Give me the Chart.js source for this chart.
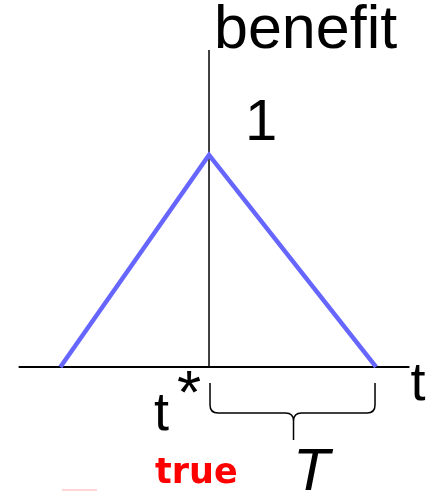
<!DOCTYPE html>
<html>
<head>
  <meta charset="UTF-8" />
  <title>benefit</title>
  <script src="https://cdn.jsdelivr.net/npm/chart.js"></script>
  <style>
    body { margin: 0; background: #fff; }
    #wrap { width: 446px; height: 491px; }
  </style>
</head>
<body>
  <div id="wrap"><canvas id="chart"></canvas></div>
  <script>
    // triangle: rises to 1 at t*, falls back to 0 after T
    const tValues = [-0.89, 0, 1];
    const benefitValues = [0, 1, 0];
    const xAxisEnds = [-1.14, 1.2];
    const yAxisTop = 1.495;

    const fontMain = '"Liberation Sans", Arial, sans-serif';

    const annotate = {
      id: 'annotate',
      afterDraw(chart) {
        const { ctx, scales: { x, y } } = chart;
        const x0 = x.getPixelForValue(0), x1 = x.getPixelForValue(1);
        const y0 = y.getPixelForValue(0), y1 = y.getPixelForValue(1);
        const yTop = y.getPixelForValue(yAxisTop);
        const xRight = x.getPixelForValue(xAxisEnds[1]);
        ctx.save();
        ctx.fillStyle = '#000';
        ctx.textBaseline = 'alphabetic';
        ctx.font = '61px ' + fontMain;
        ctx.fillText('benefit', x0 + 5, yTop - 2);
        ctx.font = '58px ' + fontMain;
        ctx.fillText('1', x0 + 36, y1 - 15);
        ctx.font = '54px ' + fontMain;
        ctx.fillText('t', xRight + 1, y0 + 33);
        ctx.fillText('t', x0 - 55, y0 + 63);
        ctx.font = '62px ' + fontMain;
        ctx.fillText('*', x0 - 32, y0 + 46);
        ctx.font = 'italic 60px ' + fontMain;
        ctx.fillText('T', x0 + 84, y0 + 123);
        ctx.fillStyle = '#ff0000';
        ctx.font = 'bold 35px "DejaVu Sans", sans-serif';
        ctx.fillText('true', x0 - 54, y0 + 116);

        // brace under [t*, t*+T]
        const mid = (x0 + x1) / 2 + 1;
        const top = y0 + 16, bar = y0 + 46, tip = y0 + 73, r = 8;
        ctx.strokeStyle = '#000';
        ctx.lineWidth = 1.5;
        ctx.beginPath();
        ctx.moveTo(x0 + 1, top);
        ctx.lineTo(x0 + 1, bar - r);
        ctx.quadraticCurveTo(x0 + 1, bar, x0 + 1 + r, bar);
        ctx.lineTo(mid - r, bar);
        ctx.quadraticCurveTo(mid, bar, mid, bar + r);
        ctx.lineTo(mid, tip);
        ctx.moveTo(x1 - 1, top);
        ctx.lineTo(x1 - 1, bar - r);
        ctx.quadraticCurveTo(x1 - 1, bar, x1 - 1 - r, bar);
        ctx.lineTo(mid + r, bar);
        ctx.quadraticCurveTo(mid, bar, mid, bar + r);
        ctx.stroke();

        ctx.fillStyle = '#ffd6d6';
        ctx.fillRect(62, 489, 35, 2);
        ctx.restore();
      }
    };

    new Chart(document.getElementById('chart'), {
      type: 'scatter',
      data: {
        datasets: [
          {
            data: xAxisEnds.map(v => ({ x: v, y: 0 })),
            showLine: true, borderColor: '#000', borderWidth: 2,
            pointRadius: 0, order: 2
          },
          {
            data: [{ x: 0, y: 0 }, { x: 0, y: yAxisTop }],
            showLine: true, borderColor: '#000', borderWidth: 1.5,
            pointRadius: 0, order: 2
          },
          {
            data: tValues.map((t, i) => ({ x: t, y: benefitValues[i] })),
            showLine: true, borderColor: '#6666ff', borderWidth: 4.5,
            pointRadius: 0, order: 1
          }
        ]
      },
      options: {
        responsive: true,
        maintainAspectRatio: false,
        animation: false,
        layout: { padding: 0 },
        plugins: { legend: { display: false }, tooltip: { enabled: false } },
        scales: {
          x: { type: 'linear', display: false, min: -1.2515, max: 1.419 },
          y: { type: 'linear', display: false, min: -0.585, max: 1.731 }
        }
      },
      plugins: [annotate]
    });
  </script>
</body>
</html>
